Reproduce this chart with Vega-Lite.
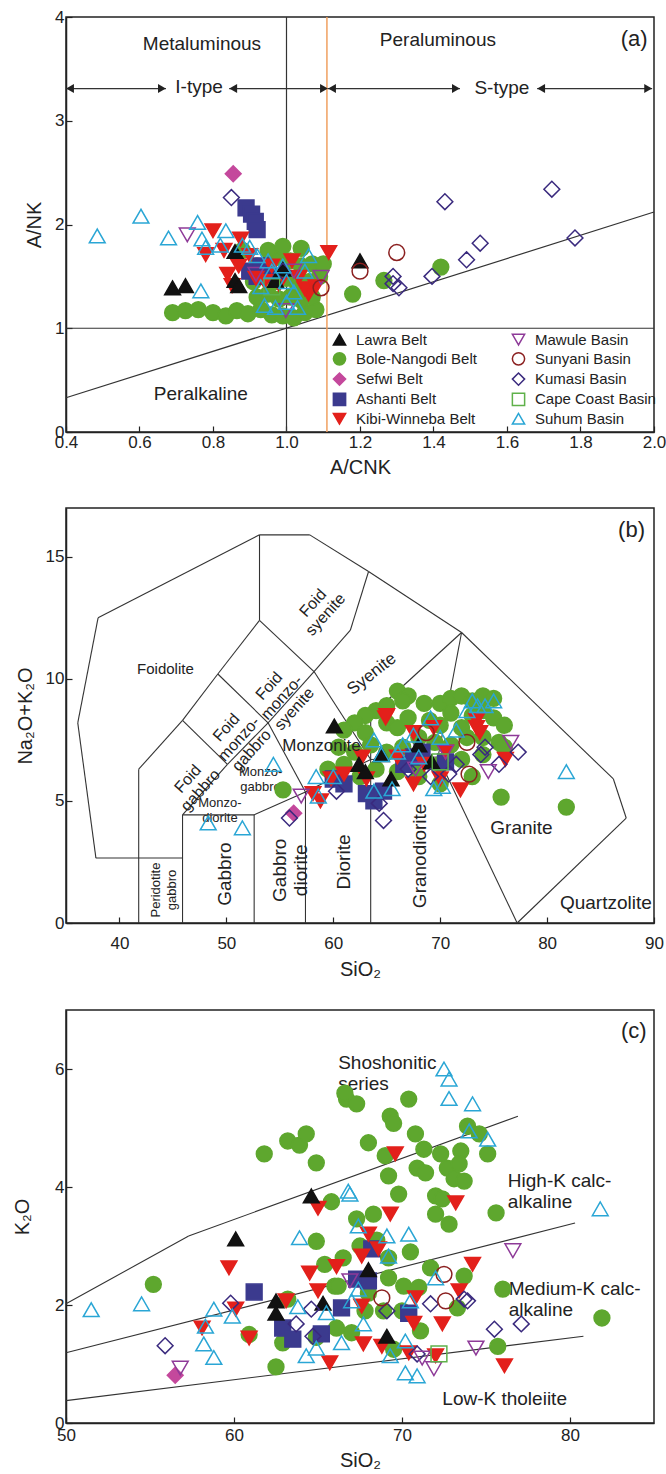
{
"$schema": "https://vega.github.io/schema/vega-lite/v6.json",
"padding": {"left": 11, "top": 7, "right": 5, "bottom": 2},
"spacing": 29,
"config": {
  "font": "Liberation Sans",
  "view": {"stroke": "#222", "strokeWidth": 1.5},
  "axis": {"grid": false, "domainColor": "#222", "domainWidth": 1.5, "tickColor": "#222", "tickSize": -6, "tickWidth": 1.2, "labelFontSize": 17, "labelColor": "#222", "titleFontSize": 20, "titleFontWeight": "normal", "titleColor": "#222", "labelPadding": 4, "labelFlush": false, "labelFont": "Liberation Sans", "titleFont": "Liberation Sans"},
  "legend": {"orient": "none", "legendX": 266, "legendY": 315, "columns": 2, "columnPadding": 32, "rowPadding": 1.3, "labelFontSize": 15, "labelColor": "#222", "labelFont": "Liberation Sans", "symbolSize": 150, "symbolStrokeWidth": 1.5, "labelOffset": 9},
  "text": {"font": "Liberation Sans", "color": "#222"}
},
"datasets": {
  "linesA": [
    {"x": 1.0, "y": 0, "x2": 1.0, "y2": 4},
    {"x": 0.4, "y": 1, "x2": 2.0, "y2": 1},
    {"x": 0.4, "y": 0.33, "x2": 2.0, "y2": 2.12},
    {"x": 0.4, "y": 3.31, "x2": 0.672, "y2": 3.31},
    {"x": 0.844, "y": 3.31, "x2": 1.472, "y2": 3.31},
    {"x": 1.682, "y": 3.31, "x2": 1.995, "y2": 3.31}
  ],
  "orangeA": [{"x": 1.11, "y": 0, "x2": 1.11, "y2": 4}],
  "headsL": [{"x": 0.411, "y": 3.31}, {"x": 0.855, "y": 3.31}, {"x": 1.124, "y": 3.31}, {"x": 1.693, "y": 3.31}],
  "headsR": [{"x": 0.661, "y": 3.31}, {"x": 1.102, "y": 3.31}, {"x": 1.461, "y": 3.31}, {"x": 1.984, "y": 3.31}],
  "textA": [
    {"x": 0.77, "y": 3.74, "t": "Metaluminous"},
    {"x": 1.412, "y": 3.78, "t": "Peraluminous"},
    {"x": 0.762, "y": 3.33, "t": "I-type"},
    {"x": 1.586, "y": 3.32, "t": "S-type"},
    {"x": 0.767, "y": 0.37, "t": "Peralkaline"}
  ],
  "labelA": [{"x": 1.946, "y": 3.79, "t": "(a)"}],
  "ptsA": [
    {"group": "Bole-Nangodi Belt", "x": 0.69, "y": 1.15}, {"group": "Bole-Nangodi Belt", "x": 0.725, "y": 1.17}, {"group": "Bole-Nangodi Belt", "x": 0.76, "y": 1.18}, {"group": "Bole-Nangodi Belt", "x": 0.8, "y": 1.15}, {"group": "Bole-Nangodi Belt", "x": 0.835, "y": 1.12}, {"group": "Bole-Nangodi Belt", "x": 0.865, "y": 1.17}, {"group": "Bole-Nangodi Belt", "x": 0.895, "y": 1.14}, {"group": "Bole-Nangodi Belt", "x": 0.93, "y": 1.18}, {"group": "Bole-Nangodi Belt", "x": 0.96, "y": 1.13}, {"group": "Bole-Nangodi Belt", "x": 0.99, "y": 1.12}, {"group": "Bole-Nangodi Belt", "x": 1.02, "y": 1.1}, {"group": "Bole-Nangodi Belt", "x": 1.05, "y": 1.15}, {"group": "Bole-Nangodi Belt", "x": 1.08, "y": 1.18}, {"group": "Bole-Nangodi Belt", "x": 0.92, "y": 1.3}, {"group": "Bole-Nangodi Belt", "x": 0.95, "y": 1.33}, {"group": "Bole-Nangodi Belt", "x": 0.98, "y": 1.28}, {"group": "Bole-Nangodi Belt", "x": 1.01, "y": 1.3}, {"group": "Bole-Nangodi Belt", "x": 1.04, "y": 1.27}, {"group": "Bole-Nangodi Belt", "x": 1.07, "y": 1.3}, {"group": "Bole-Nangodi Belt", "x": 0.91, "y": 1.45}, {"group": "Bole-Nangodi Belt", "x": 0.94, "y": 1.5}, {"group": "Bole-Nangodi Belt", "x": 0.97, "y": 1.45}, {"group": "Bole-Nangodi Belt", "x": 1.0, "y": 1.48}, {"group": "Bole-Nangodi Belt", "x": 1.03, "y": 1.42}, {"group": "Bole-Nangodi Belt", "x": 1.06, "y": 1.45}, {"group": "Bole-Nangodi Belt", "x": 1.09, "y": 1.5}, {"group": "Bole-Nangodi Belt", "x": 0.92, "y": 1.6}, {"group": "Bole-Nangodi Belt", "x": 0.95, "y": 1.62}, {"group": "Bole-Nangodi Belt", "x": 0.98, "y": 1.68}, {"group": "Bole-Nangodi Belt", "x": 1.01, "y": 1.65}, {"group": "Bole-Nangodi Belt", "x": 1.04, "y": 1.6}, {"group": "Bole-Nangodi Belt", "x": 1.07, "y": 1.62}, {"group": "Bole-Nangodi Belt", "x": 0.95, "y": 1.75}, {"group": "Bole-Nangodi Belt", "x": 0.99, "y": 1.79}, {"group": "Bole-Nangodi Belt", "x": 1.04, "y": 1.77}, {"group": "Bole-Nangodi Belt", "x": 0.88, "y": 1.75}, {"group": "Bole-Nangodi Belt", "x": 1.1, "y": 1.62}, {"group": "Bole-Nangodi Belt", "x": 1.18, "y": 1.33}, {"group": "Bole-Nangodi Belt", "x": 1.265, "y": 1.46}, {"group": "Bole-Nangodi Belt", "x": 1.42, "y": 1.59},
    {"group": "Ashanti Belt", "x": 0.89, "y": 2.16}, {"group": "Ashanti Belt", "x": 0.905, "y": 2.1}, {"group": "Ashanti Belt", "x": 0.915, "y": 2.03}, {"group": "Ashanti Belt", "x": 0.92, "y": 1.95}, {"group": "Ashanti Belt", "x": 0.9, "y": 1.55}, {"group": "Ashanti Belt", "x": 0.93, "y": 1.6}, {"group": "Ashanti Belt", "x": 0.95, "y": 1.52}, {"group": "Ashanti Belt", "x": 0.92, "y": 1.5},
    {"group": "Kibi-Winneba Belt", "x": 0.8, "y": 1.94}, {"group": "Kibi-Winneba Belt", "x": 0.875, "y": 1.86}, {"group": "Kibi-Winneba Belt", "x": 0.78, "y": 1.71}, {"group": "Kibi-Winneba Belt", "x": 0.84, "y": 1.52}, {"group": "Kibi-Winneba Belt", "x": 0.852, "y": 1.41}, {"group": "Kibi-Winneba Belt", "x": 0.917, "y": 1.48}, {"group": "Kibi-Winneba Belt", "x": 1.06, "y": 1.33}, {"group": "Kibi-Winneba Belt", "x": 1.115, "y": 1.73}, {"group": "Kibi-Winneba Belt", "x": 1.034, "y": 1.49}, {"group": "Kibi-Winneba Belt", "x": 1.015, "y": 1.65}, {"group": "Kibi-Winneba Belt", "x": 0.83, "y": 1.75}, {"group": "Kibi-Winneba Belt", "x": 0.9, "y": 1.7}, {"group": "Kibi-Winneba Belt", "x": 0.96, "y": 1.6}, {"group": "Kibi-Winneba Belt", "x": 0.98, "y": 1.42}, {"group": "Kibi-Winneba Belt", "x": 1.05, "y": 1.38}, {"group": "Kibi-Winneba Belt", "x": 0.87, "y": 1.6}, {"group": "Kibi-Winneba Belt", "x": 0.94, "y": 1.45}, {"group": "Kibi-Winneba Belt", "x": 1.08, "y": 1.4},
    {"group": "Lawra Belt", "x": 0.69, "y": 1.39}, {"group": "Lawra Belt", "x": 0.725, "y": 1.41}, {"group": "Lawra Belt", "x": 0.86, "y": 1.46}, {"group": "Lawra Belt", "x": 0.87, "y": 1.41}, {"group": "Lawra Belt", "x": 0.86, "y": 1.74}, {"group": "Lawra Belt", "x": 0.97, "y": 1.46}, {"group": "Lawra Belt", "x": 0.99, "y": 1.57}, {"group": "Lawra Belt", "x": 1.2, "y": 1.65},
    {"group": "Sefwi Belt", "x": 0.855, "y": 2.49},
    {"group": "Kumasi Basin", "x": 0.85, "y": 2.26}, {"group": "Kumasi Basin", "x": 1.431, "y": 2.22}, {"group": "Kumasi Basin", "x": 1.722, "y": 2.34}, {"group": "Kumasi Basin", "x": 1.785, "y": 1.87}, {"group": "Kumasi Basin", "x": 1.527, "y": 1.82}, {"group": "Kumasi Basin", "x": 1.49, "y": 1.66}, {"group": "Kumasi Basin", "x": 1.396, "y": 1.5}, {"group": "Kumasi Basin", "x": 1.29, "y": 1.5}, {"group": "Kumasi Basin", "x": 1.306, "y": 1.39}, {"group": "Kumasi Basin", "x": 1.29, "y": 1.43}, {"group": "Kumasi Basin", "x": 0.99, "y": 1.55},
    {"group": "Mawule Basin", "x": 0.73, "y": 1.9}, {"group": "Mawule Basin", "x": 1.094, "y": 1.49}, {"group": "Mawule Basin", "x": 0.998, "y": 1.17}, {"group": "Mawule Basin", "x": 0.917, "y": 1.52}, {"group": "Mawule Basin", "x": 1.02, "y": 1.55},
    {"group": "Sunyani Basin", "x": 1.094, "y": 1.39}, {"group": "Sunyani Basin", "x": 1.2, "y": 1.55}, {"group": "Sunyani Basin", "x": 1.3, "y": 1.73},
    {"group": "Cape Coast Basin", "x": 0.96, "y": 1.4},
    {"group": "Suhum Basin", "x": 0.485, "y": 1.89}, {"group": "Suhum Basin", "x": 0.604, "y": 2.08}, {"group": "Suhum Basin", "x": 0.679, "y": 1.87}, {"group": "Suhum Basin", "x": 0.758, "y": 2.02}, {"group": "Suhum Basin", "x": 0.835, "y": 1.94}, {"group": "Suhum Basin", "x": 0.767, "y": 1.36}, {"group": "Suhum Basin", "x": 0.77, "y": 1.86}, {"group": "Suhum Basin", "x": 0.78, "y": 1.78}, {"group": "Suhum Basin", "x": 0.82, "y": 1.8}, {"group": "Suhum Basin", "x": 0.9, "y": 1.78}, {"group": "Suhum Basin", "x": 0.95, "y": 1.65}, {"group": "Suhum Basin", "x": 1.0, "y": 1.25}, {"group": "Suhum Basin", "x": 0.97, "y": 1.2}, {"group": "Suhum Basin", "x": 0.94, "y": 1.22}, {"group": "Suhum Basin", "x": 1.0, "y": 1.45}, {"group": "Suhum Basin", "x": 0.93, "y": 1.4}, {"group": "Suhum Basin", "x": 1.05, "y": 1.55}, {"group": "Suhum Basin", "x": 1.02, "y": 1.35}, {"group": "Suhum Basin", "x": 0.96, "y": 1.55}, {"group": "Suhum Basin", "x": 0.88, "y": 1.8}, {"group": "Suhum Basin", "x": 1.03, "y": 1.2}, {"group": "Suhum Basin", "x": 0.99, "y": 1.6}, {"group": "Suhum Basin", "x": 0.92, "y": 1.7}, {"group": "Suhum Basin", "x": 1.06, "y": 1.7}
  ],
  "segB": [
    {"x": 38.0, "y": 12.5, "x2": 53.1, "y2": 15.9},
    {"x": 53.1, "y": 15.9, "x2": 57.8, "y2": 15.9},
    {"x": 57.8, "y": 15.9, "x2": 63.3, "y2": 14.4},
    {"x": 63.3, "y": 14.4, "x2": 72.0, "y2": 11.9},
    {"x": 72.0, "y": 11.9, "x2": 86.2, "y2": 5.9},
    {"x": 86.2, "y": 5.9, "x2": 87.4, "y2": 4.3},
    {"x": 87.4, "y": 4.3, "x2": 77.2, "y2": 0},
    {"x": 38.0, "y": 12.5, "x2": 36.1, "y2": 8.2},
    {"x": 36.1, "y": 8.2, "x2": 37.8, "y2": 2.66},
    {"x": 37.8, "y": 2.66, "x2": 45.9, "y2": 2.66},
    {"x": 41.8, "y": 0, "x2": 41.8, "y2": 6.3},
    {"x": 41.8, "y": 6.3, "x2": 45.9, "y2": 8.3},
    {"x": 45.9, "y": 8.3, "x2": 49.2, "y2": 10.2},
    {"x": 49.2, "y": 10.2, "x2": 53.1, "y2": 12.4},
    {"x": 53.1, "y": 12.4, "x2": 53.1, "y2": 15.9},
    {"x": 45.9, "y": 8.3, "x2": 50.1, "y2": 6.5},
    {"x": 49.2, "y": 10.2, "x2": 53.9, "y2": 8.2},
    {"x": 53.1, "y": 12.4, "x2": 58.2, "y2": 10.3},
    {"x": 45.9, "y": 4.43, "x2": 50.1, "y2": 6.5},
    {"x": 50.1, "y": 6.5, "x2": 53.9, "y2": 8.2},
    {"x": 53.9, "y": 8.2, "x2": 58.2, "y2": 10.3},
    {"x": 45.9, "y": 4.43, "x2": 52.6, "y2": 4.43},
    {"x": 45.9, "y": 0, "x2": 45.9, "y2": 4.43},
    {"x": 52.6, "y": 0, "x2": 52.6, "y2": 4.43},
    {"x": 52.6, "y": 4.43, "x2": 57.4, "y2": 5.37},
    {"x": 53.9, "y": 8.2, "x2": 57.4, "y2": 5.37},
    {"x": 57.4, "y": 0, "x2": 57.4, "y2": 5.37},
    {"x": 58.2, "y": 10.3, "x2": 61.6, "y2": 12.0},
    {"x": 61.6, "y": 12.0, "x2": 63.3, "y2": 14.4},
    {"x": 58.2, "y": 10.3, "x2": 63.5, "y2": 6.7},
    {"x": 57.4, "y": 5.37, "x2": 63.5, "y2": 6.7},
    {"x": 63.5, "y": 0, "x2": 63.5, "y2": 8.5},
    {"x": 72.0, "y": 11.9, "x2": 63.5, "y2": 8.5},
    {"x": 72.0, "y": 11.9, "x2": 69.8, "y2": 6.8},
    {"x": 63.5, "y": 6.7, "x2": 69.8, "y2": 6.8},
    {"x": 69.8, "y": 6.8, "x2": 77.2, "y2": 0}
  ],
  "ptsB": [
    {"group": "Bole-Nangodi Belt", "x": 55.3, "y": 5.45}, {"group": "Bole-Nangodi Belt", "x": 75.7, "y": 5.16}, {"group": "Bole-Nangodi Belt", "x": 81.8, "y": 4.75}, {"group": "Bole-Nangodi Belt", "x": 66, "y": 9.5}, {"group": "Bole-Nangodi Belt", "x": 67, "y": 9.3}, {"group": "Bole-Nangodi Belt", "x": 68.5, "y": 9.0}, {"group": "Bole-Nangodi Belt", "x": 70, "y": 9.0}, {"group": "Bole-Nangodi Belt", "x": 71, "y": 9.2}, {"group": "Bole-Nangodi Belt", "x": 72, "y": 9.3}, {"group": "Bole-Nangodi Belt", "x": 73, "y": 9.1}, {"group": "Bole-Nangodi Belt", "x": 74, "y": 9.3}, {"group": "Bole-Nangodi Belt", "x": 75, "y": 9.2}, {"group": "Bole-Nangodi Belt", "x": 66.5, "y": 9.1}, {"group": "Bole-Nangodi Belt", "x": 64, "y": 8.7}, {"group": "Bole-Nangodi Belt", "x": 65, "y": 8.9}, {"group": "Bole-Nangodi Belt", "x": 63, "y": 8.5}, {"group": "Bole-Nangodi Belt", "x": 62, "y": 8.2}, {"group": "Bole-Nangodi Belt", "x": 61, "y": 7.9}, {"group": "Bole-Nangodi Belt", "x": 63, "y": 7.8}, {"group": "Bole-Nangodi Belt", "x": 65, "y": 8.2}, {"group": "Bole-Nangodi Belt", "x": 66, "y": 8.0}, {"group": "Bole-Nangodi Belt", "x": 67, "y": 8.4}, {"group": "Bole-Nangodi Belt", "x": 69, "y": 8.3}, {"group": "Bole-Nangodi Belt", "x": 70, "y": 8.1}, {"group": "Bole-Nangodi Belt", "x": 71, "y": 8.6}, {"group": "Bole-Nangodi Belt", "x": 73, "y": 8.5}, {"group": "Bole-Nangodi Belt", "x": 74, "y": 8.7}, {"group": "Bole-Nangodi Belt", "x": 75, "y": 8.4}, {"group": "Bole-Nangodi Belt", "x": 76, "y": 8.1}, {"group": "Bole-Nangodi Belt", "x": 72, "y": 8.0}, {"group": "Bole-Nangodi Belt", "x": 63.5, "y": 7.3}, {"group": "Bole-Nangodi Belt", "x": 65, "y": 7.0}, {"group": "Bole-Nangodi Belt", "x": 66.5, "y": 7.2}, {"group": "Bole-Nangodi Belt", "x": 68, "y": 7.6}, {"group": "Bole-Nangodi Belt", "x": 69.5, "y": 7.4}, {"group": "Bole-Nangodi Belt", "x": 71, "y": 7.3}, {"group": "Bole-Nangodi Belt", "x": 72.5, "y": 7.6}, {"group": "Bole-Nangodi Belt", "x": 74, "y": 7.6}, {"group": "Bole-Nangodi Belt", "x": 75.5, "y": 7.4}, {"group": "Bole-Nangodi Belt", "x": 62, "y": 7.0}, {"group": "Bole-Nangodi Belt", "x": 64, "y": 6.3}, {"group": "Bole-Nangodi Belt", "x": 66, "y": 6.2}, {"group": "Bole-Nangodi Belt", "x": 67.5, "y": 6.6}, {"group": "Bole-Nangodi Belt", "x": 70, "y": 6.5}, {"group": "Bole-Nangodi Belt", "x": 72, "y": 6.7}, {"group": "Bole-Nangodi Belt", "x": 74, "y": 6.9}, {"group": "Bole-Nangodi Belt", "x": 76, "y": 7.2}, {"group": "Bole-Nangodi Belt", "x": 60, "y": 6.0}, {"group": "Bole-Nangodi Belt", "x": 61, "y": 6.5}, {"group": "Bole-Nangodi Belt", "x": 62.5, "y": 6.0}, {"group": "Bole-Nangodi Belt", "x": 68, "y": 6.0}, {"group": "Bole-Nangodi Belt", "x": 70, "y": 5.7}, {"group": "Bole-Nangodi Belt", "x": 73, "y": 6.0}, {"group": "Bole-Nangodi Belt", "x": 60.5, "y": 7.2}, {"group": "Bole-Nangodi Belt", "x": 59.5, "y": 6.3},
    {"group": "Ashanti Belt", "x": 61.0, "y": 5.7}, {"group": "Ashanti Belt", "x": 63.1, "y": 5.3}, {"group": "Ashanti Belt", "x": 63.8, "y": 5.0}, {"group": "Ashanti Belt", "x": 64.7, "y": 5.4}, {"group": "Ashanti Belt", "x": 66.6, "y": 6.5}, {"group": "Ashanti Belt", "x": 67.5, "y": 6.8}, {"group": "Ashanti Belt", "x": 68.3, "y": 7.0}, {"group": "Ashanti Belt", "x": 70.5, "y": 6.6}, {"group": "Ashanti Belt", "x": 60, "y": 5.9},
    {"group": "Kibi-Winneba Belt", "x": 65.0, "y": 8.5}, {"group": "Kibi-Winneba Belt", "x": 62.7, "y": 6.8}, {"group": "Kibi-Winneba Belt", "x": 67.5, "y": 7.8}, {"group": "Kibi-Winneba Belt", "x": 69.4, "y": 8.0}, {"group": "Kibi-Winneba Belt", "x": 73.4, "y": 8.0}, {"group": "Kibi-Winneba Belt", "x": 73.7, "y": 7.8}, {"group": "Kibi-Winneba Belt", "x": 71.9, "y": 5.45}, {"group": "Kibi-Winneba Belt", "x": 67.5, "y": 5.7}, {"group": "Kibi-Winneba Belt", "x": 70.0, "y": 5.9}, {"group": "Kibi-Winneba Belt", "x": 76.1, "y": 6.7}, {"group": "Kibi-Winneba Belt", "x": 63.1, "y": 5.9}, {"group": "Kibi-Winneba Belt", "x": 58.1, "y": 5.3}, {"group": "Kibi-Winneba Belt", "x": 58.8, "y": 5.0}, {"group": "Kibi-Winneba Belt", "x": 59.8, "y": 5.9}, {"group": "Kibi-Winneba Belt", "x": 64.9, "y": 8.4}, {"group": "Kibi-Winneba Belt", "x": 73.4, "y": 8.3}, {"group": "Kibi-Winneba Belt", "x": 66, "y": 6.8}, {"group": "Kibi-Winneba Belt", "x": 68.5, "y": 6.5}, {"group": "Kibi-Winneba Belt", "x": 70.5, "y": 7.0}, {"group": "Kibi-Winneba Belt", "x": 61, "y": 6.1},
    {"group": "Lawra Belt", "x": 60.1, "y": 8.07}, {"group": "Lawra Belt", "x": 62.4, "y": 6.5}, {"group": "Lawra Belt", "x": 64.5, "y": 6.9}, {"group": "Lawra Belt", "x": 69.2, "y": 6.6}, {"group": "Lawra Belt", "x": 68.0, "y": 7.3}, {"group": "Lawra Belt", "x": 65.4, "y": 5.9}, {"group": "Lawra Belt", "x": 63.0, "y": 6.2},
    {"group": "Sefwi Belt", "x": 56.3, "y": 4.5},
    {"group": "Kumasi Basin", "x": 55.9, "y": 4.3}, {"group": "Kumasi Basin", "x": 64.7, "y": 4.2}, {"group": "Kumasi Basin", "x": 64.3, "y": 4.9}, {"group": "Kumasi Basin", "x": 69.1, "y": 6.0}, {"group": "Kumasi Basin", "x": 70.8, "y": 6.1}, {"group": "Kumasi Basin", "x": 71.5, "y": 6.5}, {"group": "Kumasi Basin", "x": 73.8, "y": 6.9}, {"group": "Kumasi Basin", "x": 74.2, "y": 7.2}, {"group": "Kumasi Basin", "x": 75.5, "y": 6.5}, {"group": "Kumasi Basin", "x": 77.3, "y": 7.0}, {"group": "Kumasi Basin", "x": 60.3, "y": 5.4}, {"group": "Kumasi Basin", "x": 67.0, "y": 6.3},
    {"group": "Mawule Basin", "x": 57.0, "y": 5.2}, {"group": "Mawule Basin", "x": 76.6, "y": 7.4}, {"group": "Mawule Basin", "x": 74.5, "y": 6.2}, {"group": "Mawule Basin", "x": 67.7, "y": 6.3}, {"group": "Mawule Basin", "x": 70.5, "y": 7.0},
    {"group": "Sunyani Basin", "x": 68.7, "y": 7.8}, {"group": "Sunyani Basin", "x": 72.5, "y": 7.4}, {"group": "Sunyani Basin", "x": 72.7, "y": 6.1},
    {"group": "Cape Coast Basin", "x": 70, "y": 6.6},
    {"group": "Suhum Basin", "x": 48.3, "y": 4.1}, {"group": "Suhum Basin", "x": 51.5, "y": 3.9}, {"group": "Suhum Basin", "x": 54.4, "y": 6.5}, {"group": "Suhum Basin", "x": 58.4, "y": 6.0}, {"group": "Suhum Basin", "x": 58.6, "y": 5.2}, {"group": "Suhum Basin", "x": 60, "y": 6.0}, {"group": "Suhum Basin", "x": 81.8, "y": 6.2}, {"group": "Suhum Basin", "x": 63.8, "y": 7.5}, {"group": "Suhum Basin", "x": 64.5, "y": 6.9}, {"group": "Suhum Basin", "x": 66, "y": 7.0}, {"group": "Suhum Basin", "x": 67.5, "y": 7.7}, {"group": "Suhum Basin", "x": 69.1, "y": 8.4}, {"group": "Suhum Basin", "x": 70, "y": 7.6}, {"group": "Suhum Basin", "x": 72.5, "y": 8.7}, {"group": "Suhum Basin", "x": 73.5, "y": 8.9}, {"group": "Suhum Basin", "x": 75.0, "y": 9.1}, {"group": "Suhum Basin", "x": 74.2, "y": 8.9}, {"group": "Suhum Basin", "x": 69.4, "y": 5.5}, {"group": "Suhum Basin", "x": 70.2, "y": 5.6}, {"group": "Suhum Basin", "x": 65.5, "y": 5.5}, {"group": "Suhum Basin", "x": 63.8, "y": 5.4}, {"group": "Suhum Basin", "x": 66.5, "y": 7.3}, {"group": "Suhum Basin", "x": 68, "y": 6.8}, {"group": "Suhum Basin", "x": 71.5, "y": 7.9}, {"group": "Suhum Basin", "x": 73, "y": 9.1}
  ],
  "segC": [
    {"x": 50, "y": 2.02, "x2": 57.3, "y2": 3.17},
    {"x": 57.3, "y": 3.17, "x2": 76.9, "y2": 5.2},
    {"x": 50, "y": 1.19, "x2": 80.3, "y2": 3.39},
    {"x": 50, "y": 0.38, "x2": 80.8, "y2": 1.47}
  ],
  "ptsC": [
    {"group": "Bole-Nangodi Belt", "x": 55.2, "y": 2.35}, {"group": "Bole-Nangodi Belt", "x": 60.9, "y": 1.5}, {"group": "Bole-Nangodi Belt", "x": 62.5, "y": 0.95}, {"group": "Bole-Nangodi Belt", "x": 62.9, "y": 1.36}, {"group": "Bole-Nangodi Belt", "x": 64.9, "y": 1.45}, {"group": "Bole-Nangodi Belt", "x": 63.2, "y": 2.1}, {"group": "Bole-Nangodi Belt", "x": 64.9, "y": 3.08}, {"group": "Bole-Nangodi Belt", "x": 65.4, "y": 2.69}, {"group": "Bole-Nangodi Belt", "x": 66.0, "y": 2.32}, {"group": "Bole-Nangodi Belt", "x": 61.8, "y": 4.56}, {"group": "Bole-Nangodi Belt", "x": 63.2, "y": 4.78}, {"group": "Bole-Nangodi Belt", "x": 63.9, "y": 4.71}, {"group": "Bole-Nangodi Belt", "x": 64.3, "y": 4.9}, {"group": "Bole-Nangodi Belt", "x": 64.9, "y": 4.41}, {"group": "Bole-Nangodi Belt", "x": 65.8, "y": 3.75}, {"group": "Bole-Nangodi Belt", "x": 66.7, "y": 5.49}, {"group": "Bole-Nangodi Belt", "x": 67.3, "y": 5.41}, {"group": "Bole-Nangodi Belt", "x": 66.6, "y": 5.59}, {"group": "Bole-Nangodi Belt", "x": 70.4, "y": 5.49}, {"group": "Bole-Nangodi Belt", "x": 69.3, "y": 5.2}, {"group": "Bole-Nangodi Belt", "x": 69.5, "y": 5.08}, {"group": "Bole-Nangodi Belt", "x": 70.8, "y": 4.9}, {"group": "Bole-Nangodi Belt", "x": 68.0, "y": 4.75}, {"group": "Bole-Nangodi Belt", "x": 69.0, "y": 4.53}, {"group": "Bole-Nangodi Belt", "x": 69.2, "y": 4.19}, {"group": "Bole-Nangodi Belt", "x": 69.8, "y": 3.88}, {"group": "Bole-Nangodi Belt", "x": 71.3, "y": 4.64}, {"group": "Bole-Nangodi Belt", "x": 70.9, "y": 4.32}, {"group": "Bole-Nangodi Belt", "x": 71.4, "y": 4.24}, {"group": "Bole-Nangodi Belt", "x": 72.3, "y": 4.56}, {"group": "Bole-Nangodi Belt", "x": 72.7, "y": 4.32}, {"group": "Bole-Nangodi Belt", "x": 73.1, "y": 4.14}, {"group": "Bole-Nangodi Belt", "x": 73.7, "y": 4.1}, {"group": "Bole-Nangodi Belt", "x": 73.5, "y": 4.61}, {"group": "Bole-Nangodi Belt", "x": 73.9, "y": 5.03}, {"group": "Bole-Nangodi Belt", "x": 74.6, "y": 4.9}, {"group": "Bole-Nangodi Belt", "x": 75.1, "y": 4.56}, {"group": "Bole-Nangodi Belt", "x": 73.4, "y": 4.39}, {"group": "Bole-Nangodi Belt", "x": 72.0, "y": 3.85}, {"group": "Bole-Nangodi Belt", "x": 72.4, "y": 3.8}, {"group": "Bole-Nangodi Belt", "x": 72.8, "y": 3.37}, {"group": "Bole-Nangodi Belt", "x": 72.0, "y": 3.54}, {"group": "Bole-Nangodi Belt", "x": 75.6, "y": 3.56}, {"group": "Bole-Nangodi Belt", "x": 68.3, "y": 3.54}, {"group": "Bole-Nangodi Belt", "x": 67.3, "y": 3.46}, {"group": "Bole-Nangodi Belt", "x": 71.7, "y": 2.63}, {"group": "Bole-Nangodi Belt", "x": 73.7, "y": 2.49}, {"group": "Bole-Nangodi Belt", "x": 76.0, "y": 2.27}, {"group": "Bole-Nangodi Belt", "x": 81.9, "y": 1.78}, {"group": "Bole-Nangodi Belt", "x": 75.7, "y": 1.3}, {"group": "Bole-Nangodi Belt", "x": 71.1, "y": 1.56}, {"group": "Bole-Nangodi Belt", "x": 69.2, "y": 2.46}, {"group": "Bole-Nangodi Belt", "x": 69.2, "y": 2.8}, {"group": "Bole-Nangodi Belt", "x": 70.1, "y": 2.32}, {"group": "Bole-Nangodi Belt", "x": 73.3, "y": 1.95}, {"group": "Bole-Nangodi Belt", "x": 67.0, "y": 1.53}, {"group": "Bole-Nangodi Belt", "x": 66.1, "y": 1.61}, {"group": "Bole-Nangodi Belt", "x": 69.5, "y": 1.25}, {"group": "Bole-Nangodi Belt", "x": 68.9, "y": 1.9}, {"group": "Bole-Nangodi Belt", "x": 66.2, "y": 2.32}, {"group": "Bole-Nangodi Belt", "x": 67.5, "y": 3.0}, {"group": "Bole-Nangodi Belt", "x": 68.5, "y": 3.1}, {"group": "Bole-Nangodi Belt", "x": 66.5, "y": 2.8}, {"group": "Bole-Nangodi Belt", "x": 70.5, "y": 2.9}, {"group": "Bole-Nangodi Belt", "x": 71, "y": 2.3}, {"group": "Bole-Nangodi Belt", "x": 68, "y": 2.2}, {"group": "Bole-Nangodi Belt", "x": 67.8, "y": 1.9}, {"group": "Bole-Nangodi Belt", "x": 70, "y": 1.9},
    {"group": "Ashanti Belt", "x": 61.2, "y": 2.22}, {"group": "Ashanti Belt", "x": 62.9, "y": 1.61}, {"group": "Ashanti Belt", "x": 63.5, "y": 1.42}, {"group": "Ashanti Belt", "x": 65.2, "y": 1.51}, {"group": "Ashanti Belt", "x": 68.2, "y": 2.95}, {"group": "Ashanti Belt", "x": 67.3, "y": 2.44}, {"group": "Ashanti Belt", "x": 68.0, "y": 2.41}, {"group": "Ashanti Belt", "x": 66.4, "y": 1.95}, {"group": "Ashanti Belt", "x": 70.4, "y": 1.86},
    {"group": "Kibi-Winneba Belt", "x": 59.7, "y": 2.63}, {"group": "Kibi-Winneba Belt", "x": 58.1, "y": 1.61}, {"group": "Kibi-Winneba Belt", "x": 60.1, "y": 1.93}, {"group": "Kibi-Winneba Belt", "x": 60.9, "y": 1.44}, {"group": "Kibi-Winneba Belt", "x": 64.5, "y": 2.54}, {"group": "Kibi-Winneba Belt", "x": 65.0, "y": 2.24}, {"group": "Kibi-Winneba Belt", "x": 63.1, "y": 2.07}, {"group": "Kibi-Winneba Belt", "x": 65.7, "y": 1.02}, {"group": "Kibi-Winneba Belt", "x": 65.0, "y": 3.64}, {"group": "Kibi-Winneba Belt", "x": 69.6, "y": 4.56}, {"group": "Kibi-Winneba Belt", "x": 69.3, "y": 3.54}, {"group": "Kibi-Winneba Belt", "x": 73.2, "y": 3.73}, {"group": "Kibi-Winneba Belt", "x": 67.6, "y": 2.83}, {"group": "Kibi-Winneba Belt", "x": 74.2, "y": 2.69}, {"group": "Kibi-Winneba Belt", "x": 73.4, "y": 2.24}, {"group": "Kibi-Winneba Belt", "x": 70.8, "y": 2.12}, {"group": "Kibi-Winneba Belt", "x": 67.6, "y": 1.98}, {"group": "Kibi-Winneba Belt", "x": 72.4, "y": 1.68}, {"group": "Kibi-Winneba Belt", "x": 67.7, "y": 1.34}, {"group": "Kibi-Winneba Belt", "x": 68.8, "y": 1.3}, {"group": "Kibi-Winneba Belt", "x": 70.7, "y": 1.69}, {"group": "Kibi-Winneba Belt", "x": 70.4, "y": 1.19}, {"group": "Kibi-Winneba Belt", "x": 72.0, "y": 1.14}, {"group": "Kibi-Winneba Belt", "x": 76.1, "y": 0.97}, {"group": "Kibi-Winneba Belt", "x": 66.1, "y": 2.65}, {"group": "Kibi-Winneba Belt", "x": 68.0, "y": 3.2}, {"group": "Kibi-Winneba Belt", "x": 68.6, "y": 2.95},
    {"group": "Lawra Belt", "x": 60.1, "y": 3.12}, {"group": "Lawra Belt", "x": 62.5, "y": 2.07}, {"group": "Lawra Belt", "x": 62.5, "y": 1.86}, {"group": "Lawra Belt", "x": 65.3, "y": 2.03}, {"group": "Lawra Belt", "x": 64.6, "y": 3.85}, {"group": "Lawra Belt", "x": 68.0, "y": 2.6}, {"group": "Lawra Belt", "x": 69.1, "y": 1.47},
    {"group": "Sefwi Belt", "x": 56.5, "y": 0.81},
    {"group": "Kumasi Basin", "x": 55.9, "y": 1.31}, {"group": "Kumasi Basin", "x": 59.8, "y": 2.03}, {"group": "Kumasi Basin", "x": 63.7, "y": 1.68}, {"group": "Kumasi Basin", "x": 64.6, "y": 1.93}, {"group": "Kumasi Basin", "x": 64.7, "y": 1.47}, {"group": "Kumasi Basin", "x": 69.1, "y": 1.9}, {"group": "Kumasi Basin", "x": 71.7, "y": 2.02}, {"group": "Kumasi Basin", "x": 73.7, "y": 2.1}, {"group": "Kumasi Basin", "x": 73.9, "y": 2.07}, {"group": "Kumasi Basin", "x": 75.5, "y": 1.59}, {"group": "Kumasi Basin", "x": 77.1, "y": 1.68}, {"group": "Kumasi Basin", "x": 70.9, "y": 1.17},
    {"group": "Mawule Basin", "x": 56.8, "y": 0.93}, {"group": "Mawule Basin", "x": 76.6, "y": 2.92}, {"group": "Mawule Basin", "x": 74.4, "y": 1.27}, {"group": "Mawule Basin", "x": 66.9, "y": 2.41}, {"group": "Mawule Basin", "x": 71.9, "y": 0.92}, {"group": "Mawule Basin", "x": 71.2, "y": 1.1},
    {"group": "Sunyani Basin", "x": 72.5, "y": 2.52}, {"group": "Sunyani Basin", "x": 68.8, "y": 2.12}, {"group": "Sunyani Basin", "x": 72.6, "y": 2.07},
    {"group": "Cape Coast Basin", "x": 72.2, "y": 1.17},
    {"group": "Suhum Basin", "x": 51.5, "y": 1.92}, {"group": "Suhum Basin", "x": 54.5, "y": 2.02}, {"group": "Suhum Basin", "x": 58.3, "y": 1.64}, {"group": "Suhum Basin", "x": 58.2, "y": 1.34}, {"group": "Suhum Basin", "x": 58.8, "y": 1.11}, {"group": "Suhum Basin", "x": 58.8, "y": 1.93}, {"group": "Suhum Basin", "x": 59.9, "y": 1.81}, {"group": "Suhum Basin", "x": 63.9, "y": 3.14}, {"group": "Suhum Basin", "x": 63.8, "y": 1.97}, {"group": "Suhum Basin", "x": 64.3, "y": 1.14}, {"group": "Suhum Basin", "x": 64.9, "y": 1.27}, {"group": "Suhum Basin", "x": 65.5, "y": 1.87}, {"group": "Suhum Basin", "x": 72.5, "y": 6.0}, {"group": "Suhum Basin", "x": 72.8, "y": 5.83}, {"group": "Suhum Basin", "x": 72.8, "y": 5.5}, {"group": "Suhum Basin", "x": 74.2, "y": 5.41}, {"group": "Suhum Basin", "x": 74.0, "y": 4.95}, {"group": "Suhum Basin", "x": 75.1, "y": 4.81}, {"group": "Suhum Basin", "x": 81.8, "y": 3.63}, {"group": "Suhum Basin", "x": 66.8, "y": 3.93}, {"group": "Suhum Basin", "x": 66.9, "y": 3.88}, {"group": "Suhum Basin", "x": 67.4, "y": 3.34}, {"group": "Suhum Basin", "x": 70.4, "y": 3.2}, {"group": "Suhum Basin", "x": 69.1, "y": 3.17}, {"group": "Suhum Basin", "x": 69.2, "y": 2.83}, {"group": "Suhum Basin", "x": 67.4, "y": 2.27}, {"group": "Suhum Basin", "x": 67.0, "y": 2.07}, {"group": "Suhum Basin", "x": 66.4, "y": 1.36}, {"group": "Suhum Basin", "x": 67.7, "y": 1.68}, {"group": "Suhum Basin", "x": 70.5, "y": 2.07}, {"group": "Suhum Basin", "x": 72.0, "y": 2.46}, {"group": "Suhum Basin", "x": 70.2, "y": 1.39}, {"group": "Suhum Basin", "x": 69.3, "y": 1.14}, {"group": "Suhum Basin", "x": 70.2, "y": 0.85}, {"group": "Suhum Basin", "x": 70.9, "y": 0.8}
  ]
},
"vconcat": [
  {
    "width": 588, "height": 415,
    "encoding": {
      "x": {"field": "x", "type": "quantitative", "scale": {"domain": [0.4, 2.0], "nice": false, "zero": false}, "axis": {"title": "A/CNK", "values": [0.4, 0.6, 0.8, 1.0, 1.2, 1.4, 1.6, 1.8, 2.0], "format": ".1f", "labelPadding": 8, "titleY": 35, "titleBaseline": "middle"}},
      "y": {"field": "y", "type": "quantitative", "scale": {"domain": [0, 4], "nice": false, "zero": false}, "axis": {"title": "A/NK", "values": [0, 1, 2, 3, 4], "format": "d", "labelPadding": 8, "titleX": -32, "titleBaseline": "middle"}}
    },
    "layer": [
      {"data": {"name": "linesA"}, "mark": {"type": "rule", "color": "#333", "strokeWidth": 1.2}, "encoding": {"x2": {"field": "x2"}, "y2": {"field": "y2"}}},
      {"data": {"name": "orangeA"}, "mark": {"type": "rule", "color": "#f0a060", "strokeWidth": 1.5}, "encoding": {"x2": {"field": "x2"}, "y2": {"field": "y2"}}},
      {"data": {"name": "headsL"}, "mark": {"type": "point", "shape": "triangle-left", "filled": true, "color": "#222", "size": 81, "opacity": 1}},
      {"data": {"name": "headsR"}, "mark": {"type": "point", "shape": "triangle-right", "filled": true, "color": "#222", "size": 81, "opacity": 1}},
      {"data": {"name": "textA"}, "mark": {"type": "text", "fontSize": 19, "align": "center", "baseline": "middle"}, "encoding": {"text": {"field": "t"}}},
      {"data": {"name": "labelA"}, "mark": {"type": "text", "fontSize": 22, "align": "center", "baseline": "middle"}, "encoding": {"text": {"field": "t"}}},
      {"data": {"name": "ptsA"}, "mark": {"type": "point", "size": 250, "strokeWidth": 1.5, "opacity": 1},
       "encoding": {
         "fill": {"field": "group", "type": "nominal", "scale": {"domain": ["Lawra Belt", "Bole-Nangodi Belt", "Sefwi Belt", "Ashanti Belt", "Kibi-Winneba Belt", "Mawule Basin", "Sunyani Basin", "Kumasi Basin", "Cape Coast Basin", "Suhum Basin"], "range": ["#111111", "#5ea72e", "#c4489c", "#3b3a8e", "#e3201b", "transparent", "transparent", "transparent", "transparent", "transparent"]}, "legend": {"title": null}},
         "stroke": {"field": "group", "type": "nominal", "scale": {"domain": ["Lawra Belt", "Bole-Nangodi Belt", "Sefwi Belt", "Ashanti Belt", "Kibi-Winneba Belt", "Mawule Basin", "Sunyani Basin", "Kumasi Basin", "Cape Coast Basin", "Suhum Basin"], "range": ["#111111", "#5ea72e", "#c4489c", "#3b3a8e", "#e3201b", "#8e3a98", "#8b2020", "#3a2a7e", "#5fb14a", "#2aa6d5"]}, "legend": {"title": null}},
         "shape": {"field": "group", "type": "nominal", "scale": {"domain": ["Lawra Belt", "Bole-Nangodi Belt", "Sefwi Belt", "Ashanti Belt", "Kibi-Winneba Belt", "Mawule Basin", "Sunyani Basin", "Kumasi Basin", "Cape Coast Basin", "Suhum Basin"], "range": ["triangle-up", "circle", "diamond", "square", "triangle-down", "triangle-down", "circle", "diamond", "square", "triangle-up"]}, "legend": {"title": null}}
       }}
    ]
  },
  {
    "width": 588, "height": 415,
    "encoding": {
      "x": {"field": "x", "type": "quantitative", "scale": {"domain": [35, 90], "nice": false, "zero": false}, "axis": {"title": "SiO₂", "values": [40, 50, 60, 70, 80, 90], "labelPadding": 18, "titleY": 46, "titleBaseline": "middle"}},
      "y": {"field": "y", "type": "quantitative", "scale": {"domain": [0, 17], "nice": false, "zero": false}, "axis": {"title": "Na₂O+K₂O", "values": [0, 5, 10, 15], "labelPadding": 8, "titleX": -41, "titleBaseline": "middle"}}
    },
    "layer": [
      {"data": {"name": "segB"}, "mark": {"type": "rule", "color": "#333", "strokeWidth": 1.1}, "encoding": {"x2": {"field": "x2"}, "y2": {"field": "y2"}}},
      {"data": {"values": [{"x": 44.3, "y": 10.4, "t": "Foidolite"}]}, "mark": {"type": "text", "fontSize": 15, "align": "center", "baseline": "middle"}, "encoding": {"text": {"field": "t"}}},
      {"data": {"values": [{"x": 53.2, "y": 6.2, "t": "Monzo-\ngabbro"}, {"x": 49.4, "y": 4.9, "t": "Monzo-\ndiorite"}]}, "mark": {"type": "text", "fontSize": 13, "align": "center", "baseline": "middle", "lineBreak": "\n", "lineHeight": 15}, "encoding": {"text": {"field": "t"}}},
      {"data": {"values": [{"x": 77.6, "y": 3.9, "t": "Granite"}, {"x": 85.5, "y": 0.82, "t": "Quartzolite"}]}, "mark": {"type": "text", "fontSize": 19, "align": "center", "baseline": "middle"}, "encoding": {"text": {"field": "t"}}},
      {"data": {"values": [{"x": 87.9, "y": 16.1, "t": "(b)"}]}, "mark": {"type": "text", "fontSize": 22, "align": "center", "baseline": "middle"}, "encoding": {"text": {"field": "t"}}},
      {"data": {"values": [{"x": 43.4, "y": 1.35, "t": "Peridotite\ngabbro"}]}, "mark": {"type": "text", "fontSize": 13, "angle": 270, "align": "center", "baseline": "middle", "lineBreak": "\n", "lineHeight": 16}, "encoding": {"text": {"field": "t"}}},
      {"data": {"values": [{"x": 49.9, "y": 2.0, "t": "Gabbro"}, {"x": 55.0, "y": 2.16, "t": "Gabbro\ndiorite"}, {"x": 61.0, "y": 2.5, "t": "Diorite"}, {"x": 68.1, "y": 2.75, "t": "Granodiorite"}]}, "mark": {"type": "text", "fontSize": 19, "angle": 270, "align": "center", "baseline": "middle", "lineBreak": "\n", "lineHeight": 21}, "encoding": {"text": {"field": "t"}}},
      {"data": {"values": [{"x": 58.1, "y": 13.1, "t": "Foid\nsyenite"}, {"x": 54.0, "y": 9.7, "t": "Foid\nmonzo-\nsyenite"}, {"x": 50.0, "y": 8.0, "t": "Foid\nmonzo-\ngabbro"}, {"x": 46.4, "y": 5.9, "t": "Foid\ngabbro"}]}, "mark": {"type": "text", "fontSize": 16, "angle": 312, "align": "center", "baseline": "middle", "lineBreak": "\n", "lineHeight": 17}, "encoding": {"text": {"field": "t"}}},
      {"data": {"values": [{"x": 63.6, "y": 10.2, "t": "Syenite"}]}, "mark": {"type": "text", "fontSize": 17, "angle": 322, "align": "center", "baseline": "middle"}, "encoding": {"text": {"field": "t"}}},
      {"data": {"name": "ptsB"}, "mark": {"type": "point", "size": 250, "strokeWidth": 1.5, "opacity": 1},
       "encoding": {
         "fill": {"field": "group", "type": "nominal"},
         "stroke": {"field": "group", "type": "nominal"},
         "shape": {"field": "group", "type": "nominal"}
       }},
      {"data": {"values": [{"x": 58.9, "y": 7.25, "t": "Monzonite"}]}, "mark": {"type": "text", "fontSize": 17, "align": "center", "baseline": "middle"}, "encoding": {"text": {"field": "t"}}}
    ]
  },
  {
    "width": 588, "height": 413,
    "encoding": {
      "x": {"field": "x", "type": "quantitative", "scale": {"domain": [50, 85], "nice": false, "zero": false}, "axis": {"title": "SiO₂", "values": [50, 60, 70, 80], "labelPadding": 10, "titleY": 37, "titleBaseline": "middle"}},
      "y": {"field": "y", "type": "quantitative", "scale": {"domain": [0, 7], "nice": false, "zero": false}, "axis": {"title": "K₂O", "values": [0, 2, 4, 6], "labelPadding": 8, "titleX": -44, "titleBaseline": "middle"}}
    },
    "layer": [
      {"data": {"name": "segC"}, "mark": {"type": "rule", "color": "#333", "strokeWidth": 1.1}, "encoding": {"x2": {"field": "x2"}, "y2": {"field": "y2"}}},
      {"data": {"values": [{"x": 66.2, "y": 6.1, "t": "Shoshonitic\nseries"}, {"x": 76.3, "y": 4.1, "t": "High-K calc-\nalkaline"}, {"x": 76.35, "y": 2.27, "t": "Medium-K calc-\nalkaline"}, {"x": 72.4, "y": 0.41, "t": "Low-K tholeiite"}]}, "mark": {"type": "text", "fontSize": 19, "align": "left", "baseline": "middle", "lineBreak": "\n", "lineHeight": 21}, "encoding": {"text": {"field": "t"}}},
      {"data": {"values": [{"x": 83.8, "y": 6.64, "t": "(c)"}]}, "mark": {"type": "text", "fontSize": 22, "align": "center", "baseline": "middle"}, "encoding": {"text": {"field": "t"}}},
      {"data": {"name": "ptsC"}, "mark": {"type": "point", "size": 250, "strokeWidth": 1.5, "opacity": 1},
       "encoding": {
         "fill": {"field": "group", "type": "nominal"},
         "stroke": {"field": "group", "type": "nominal"},
         "shape": {"field": "group", "type": "nominal"}
       }}
    ]
  }
]
}
